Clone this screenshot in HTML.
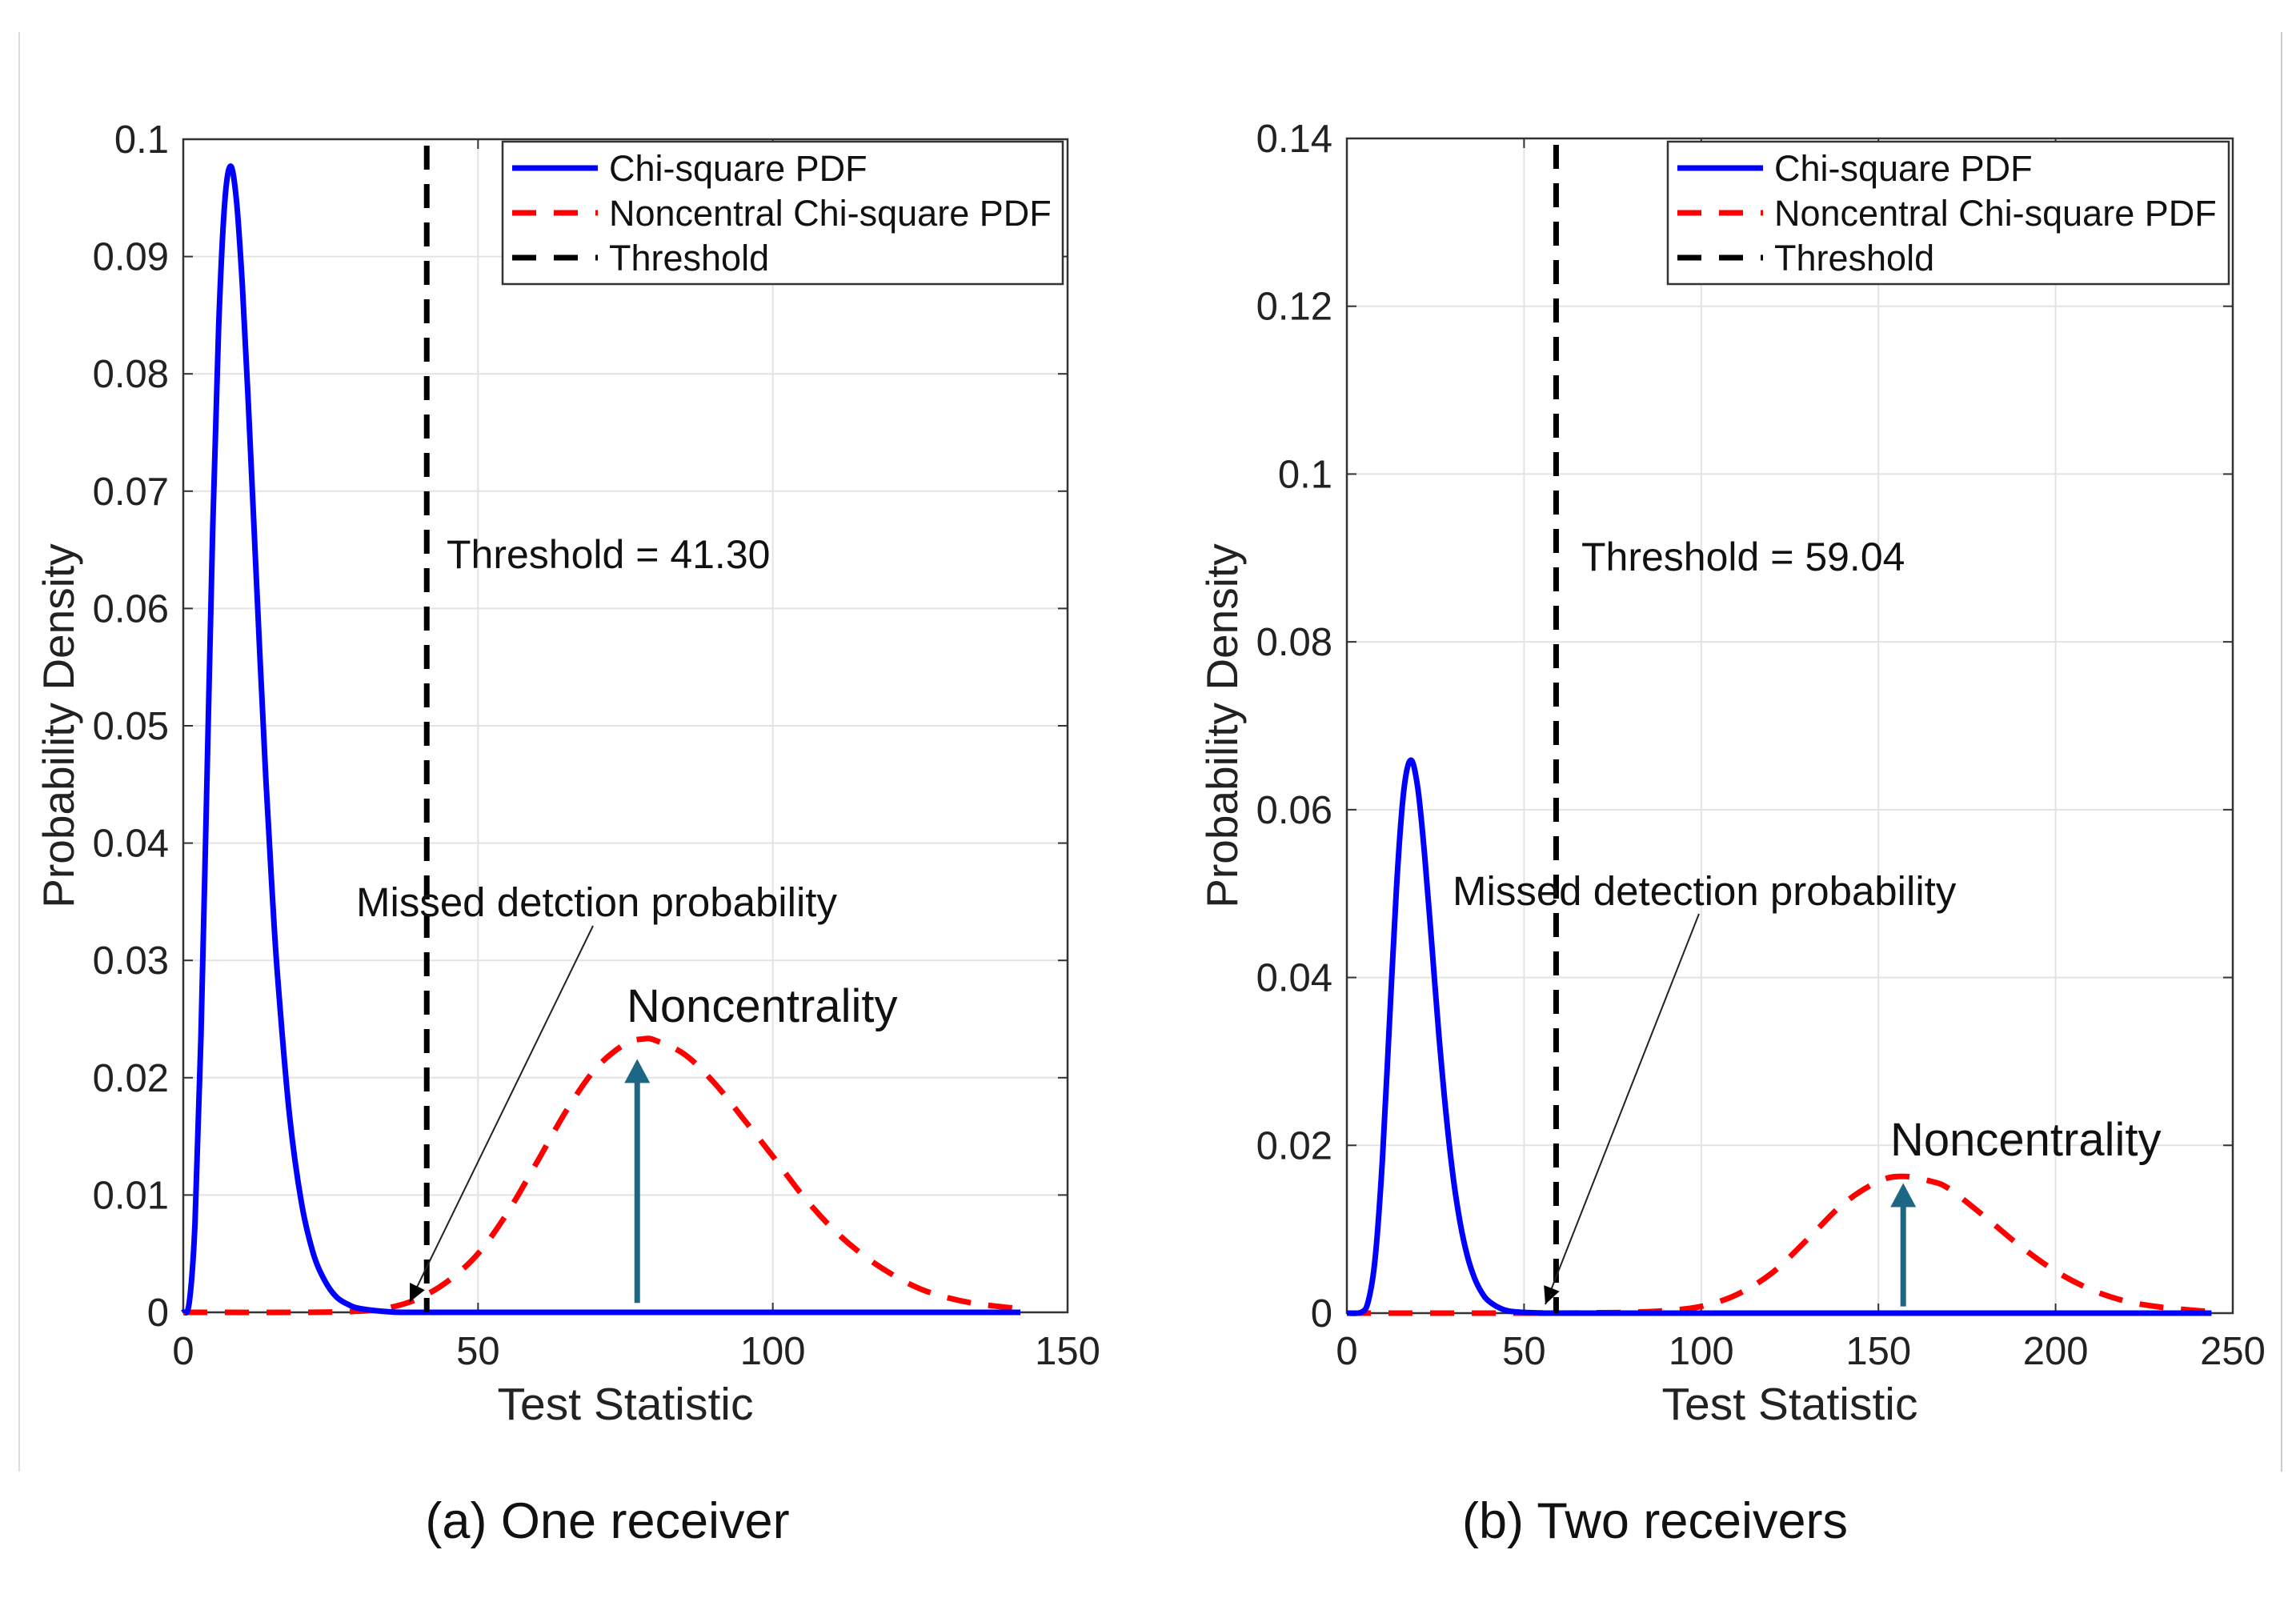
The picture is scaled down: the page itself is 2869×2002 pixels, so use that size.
<!DOCTYPE html>
<html><head><meta charset="utf-8">
<style>
html,body{margin:0;padding:0;background:#fff;}
svg{display:block;font-family:"Liberation Sans",Arial,sans-serif;}
</style></head>
<body>
<svg id="fig" width="2869" height="2002" viewBox="0 0 2869 2002" xmlns="http://www.w3.org/2000/svg">
<line x1="24" y1="40" x2="24" y2="1839" stroke="#ddd" stroke-width="2"/>
<line x1="2851" y1="40" x2="2851" y2="1839" stroke="#ccc" stroke-width="2"/>
<text x="759" y="1922" font-size="63" text-anchor="middle" fill="#111">(a) One receiver</text>
<text x="2068" y="1922" font-size="63" text-anchor="middle" fill="#111">(b) Two receivers</text>
</svg>
<script>
// ---- Panel (a) data ----
const aChiX = [0,1,2,3,4,5,6,7,8,9,10,11,12,13,14,15,16,18,20,22,24,26,28,30,35,40,60,100,142];
const aChiY = [0,0.00079,0.00766,0.0235,0.0451,0.0668,0.0840,0.0944,0.0977,0.0949,0.0877,0.0779,0.0669,0.0559,0.0456,0.0365,0.0286,0.0169,0.0095,0.0051,0.0027,0.0013,0.00066,0.00032,0.00004,0,0,0,0];
const aNcX = [0,20,30,35,40,45,50,55,60,65,70,75,78,80,85,90,95,100,105,110,115,120,125,130,135,142];
const aNcY = [0,0,0.0001,0.0004,0.0012,0.0027,0.0050,0.0085,0.0128,0.0172,0.0208,0.0229,0.0233,0.0232,0.0220,0.0196,0.0165,0.0133,0.0100,0.0072,0.0050,0.0033,0.0020,0.0012,0.0007,0.0003];
const aThreshold = 41.30;
const aArrow = [77, 0.0008, 0.0216];
const aXTicks = [0,50,100,150];
const aYTicks = [0,0.01,0.02,0.03,0.04,0.05,0.06,0.07,0.08,0.09,0.1];
const aYTickLabels = ["0","0.01","0.02","0.03","0.04","0.05","0.06","0.07","0.08","0.09","0.1"];
// ---- Panel (b) data ----
const bChiX = [0,4,6,8,10,12,14,16,18,20,22,24,26,28,30,32,34,36,38,40,44,48,55,60,120,244];
const bChiY = [0,0.0001,0.00135,0.0066,0.0181,0.0344,0.0507,0.0620,0.0659,0.0626,0.0543,0.0437,0.0330,0.0237,0.0162,0.0107,0.0068,0.0042,0.0025,0.00145,0.00046,0.00014,0.00002,0,0,0];
const bNcX = [0,60,70,80,90,100,110,120,130,140,150,157,165,170,180,190,200,210,220,230,240,244];
const bNcY = [0,0,0.00005,0.0001,0.0003,0.0008,0.0022,0.0048,0.0088,0.0130,0.0157,0.0163,0.0157,0.0148,0.0115,0.0080,0.0050,0.0028,0.0014,0.0007,0.0003,0.0002];
const bThreshold = 59.04;
const bArrow = [157, 0.0008, 0.0155];
const bXTicks = [0,50,100,150,200,250];
const bYTicks = [0,0.02,0.04,0.06,0.08,0.1,0.12,0.14];
const bYTickLabels = ["0","0.02","0.04","0.06","0.08","0.1","0.12","0.14"];

const NS = "http://www.w3.org/2000/svg";
const svg = document.getElementById("fig");
function mk(tag, attrs, parent){
  const e = document.createElementNS(NS, tag);
  for (const k in attrs) e.setAttribute(k, attrs[k]);
  (parent||svg).appendChild(e);
  return e;
}
function smoothPath(pts){
  let d = "M" + pts[0][0].toFixed(1) + " " + pts[0][1].toFixed(1);
  for (let i=0;i<pts.length-1;i++){
    const p0 = pts[Math.max(0,i-1)], p1 = pts[i], p2 = pts[i+1], p3 = pts[Math.min(pts.length-1,i+2)];
    const c1x = p1[0] + (p2[0]-p0[0])/6, c1y = p1[1] + (p2[1]-p0[1])/6;
    const c2x = p2[0] - (p3[0]-p1[0])/6, c2y = p2[1] - (p3[1]-p1[1])/6;
    d += ` C${c1x.toFixed(1)} ${c1y.toFixed(1)} ${c2x.toFixed(1)} ${c2y.toFixed(1)} ${p2[0].toFixed(1)} ${p2[1].toFixed(1)}`;
  }
  return d;
}
function panel(p){
  const g = mk("g", {});
  
  
  const sx = v => p.x0 + (v - p.xmin)/(p.xmax - p.xmin)*(p.x1 - p.x0);
  const sy = v => p.y0 - (v/p.ymax)*(p.y0 - p.y1);
  p.xt.forEach(t => {
    const l = mk("line",{x1:sx(t),x2:sx(t),y1:p.y1,y2:p.y0,stroke:"#e3e3e3","stroke-width":2},g);
    
    
  });
  p.yt.forEach(t => {
    const l = mk("line",{x1:p.x0,x2:p.x1,y1:sy(t),y2:sy(t),stroke:"#e3e3e3","stroke-width":2},g);
    
    
  });
  p.xt.forEach(t => {
    mk("line",{x1:sx(t),x2:sx(t),y1:p.y0,y2:p.y0-12,stroke:"#333","stroke-width":2},g);
    mk("line",{x1:sx(t),x2:sx(t),y1:p.y1,y2:p.y1+12,stroke:"#333","stroke-width":2},g);
    const tx = mk("text",{x:sx(t),y:1705,"font-size":49,"text-anchor":"middle",fill:"#222"},g);
    tx.textContent = String(t);
    
    
  });
  p.yt.forEach((t,i) => {
    mk("line",{x1:p.x0,x2:p.x0+12,y1:sy(t),y2:sy(t),stroke:"#333","stroke-width":2},g);
    mk("line",{x1:p.x1,x2:p.x1-12,y1:sy(t),y2:sy(t),stroke:"#333","stroke-width":2},g);
    const tx = mk("text",{x:p.x0-18,y:sy(t)+17,"font-size":49,"text-anchor":"end",fill:"#222"},g);
    tx.textContent = p.ytl[i];
    
    
  });
  const box = mk("rect",{x:p.x0,y:p.y1,width:p.x1-p.x0,height:p.y0-p.y1,fill:"none",stroke:"#333","stroke-width":2.5},g);
  
  
  const pathOf = (xs, ys) => smoothPath(xs.map((x,i)=>[sx(x), sy(ys[i])]));
  const nc = mk("path",{d:pathOf(p.ncX,p.ncY),fill:"none",stroke:"#ff0000","stroke-width":7,"stroke-dasharray":"30 22","stroke-linejoin":"round"},g);
  
  
  const chi = mk("path",{d:pathOf(p.chiX,p.chiY),fill:"none",stroke:"#0000ff","stroke-width":7,"stroke-linejoin":"round"},g);
  
  
  const th = mk("line",{x1:sx(p.th),x2:sx(p.th),y1:p.y1+8,y2:p.y0,stroke:"#000","stroke-width":7,"stroke-dasharray":"30 18"},g);
  
  
  const ax = sx(p.arrow[0]), ayb = sy(p.arrow[1]), ayt = sy(p.arrow[2]);
  const ar = mk("line",{x1:ax,x2:ax,y1:ayb,y2:ayt+28,stroke:"#1c6784","stroke-width":7},g);
  
  
  mk("polygon",{points:`${ax-16},${ayt+30} ${ax+16},${ayt+30} ${ax},${ayt}`,fill:"#1c6784"},g);
  const an = mk("line",{x1:p.ann[0],y1:p.ann[1],x2:p.ann[2],y2:p.ann[3],stroke:"#222","stroke-width":2},g);
  
  
  const ang = Math.atan2(p.ann[3]-p.ann[1], p.ann[2]-p.ann[0]);
  const hx=p.ann[2], hy=p.ann[3], L=24, W=0.45;
  mk("polygon",{points:`${hx},${hy} ${hx-L*Math.cos(ang-W)},${hy-L*Math.sin(ang-W)} ${hx-L*Math.cos(ang+W)},${hy-L*Math.sin(ang+W)}`,fill:"#000"},g);
  const t1 = mk("text",{x:p.mdX,y:p.mdY,"font-size":51,fill:"#111"},g);
  t1.textContent = "Missed detction probability".replace("detction", p.mdWord);
  
  
  const t2 = mk("text",{x:p.thX,y:p.thY,"font-size":50,fill:"#111"},g);
  t2.textContent = "Threshold = " + p.th.toFixed(2);
  
  
  const t3 = mk("text",{x:p.ncTX,y:p.ncTY,"font-size":58,fill:"#111"},g);
  t3.textContent = "Noncentrality";
  
  
  const xt = mk("text",{x:(p.x0+p.x1)/2,y:1774,"font-size":57,"text-anchor":"middle",fill:"#222"},g);
  xt.textContent = "Test Statistic";
  
  
  const yt = mk("text",{x:0,y:0,"font-size":55,"text-anchor":"middle",fill:"#222",transform:`translate(${p.x0-137},${(p.y0+p.y1)/2}) rotate(-90)`},g);
  yt.textContent = "Probability Density";
  
  
  const lg = mk("g",{},g);
  
  
  mk("rect",{x:p.lg[0],y:177,width:p.lg[1]-p.lg[0],height:178,fill:"#fff",stroke:"#333","stroke-width":2.5},lg);
  const rows = [["Chi-square PDF","#0000ff","none"],["Noncentral Chi-square PDF","#ff0000","30 22"],["Threshold","#000","30 22"]];
  rows.forEach((r,i)=>{
    const y = 210 + i*56;
    const ln = mk("line",{x1:p.lg[0]+12,x2:p.lg[0]+119,y1:y,y2:y,stroke:r[1],"stroke-width":7,"stroke-dasharray":r[2]},lg);
    
    
    const tt = mk("text",{x:p.lg[0]+133,y:y+16,"font-size":45,fill:"#111"},lg);
    tt.textContent = r[0];
    
    
  });
}
panel({name:"panel-a-one-receiver",x0:229,x1:1334,y0:1640,y1:174,xmin:0,xmax:150,ymax:0.1,
  xt:aXTicks,yt:aYTicks,ytl:aYTickLabels,chiX:aChiX,chiY:aChiY,ncX:aNcX,ncY:aNcY,th:aThreshold,arrow:aArrow,
  ann:[741,1157,512,1627],mdX:445,mdY:1145,mdWord:"detction",thX:558,thY:710,ncTX:783,ncTY:1277,lg:[628,1328]});
panel({name:"panel-b-two-receivers",x0:1683,x1:2790,y0:1641,y1:173,xmin:0,xmax:250,ymax:0.14,
  xt:bXTicks,yt:bYTicks,ytl:bYTickLabels,chiX:bChiX,chiY:bChiY,ncX:bNcX,ncY:bNcY,th:bThreshold,arrow:bArrow,
  ann:[2123,1142,1931,1630],mdX:1815,mdY:1131,mdWord:"detection",thX:1976,thY:713,ncTX:2362,ncTY:1444,lg:[2084,2785]});
</script>
</body></html>
